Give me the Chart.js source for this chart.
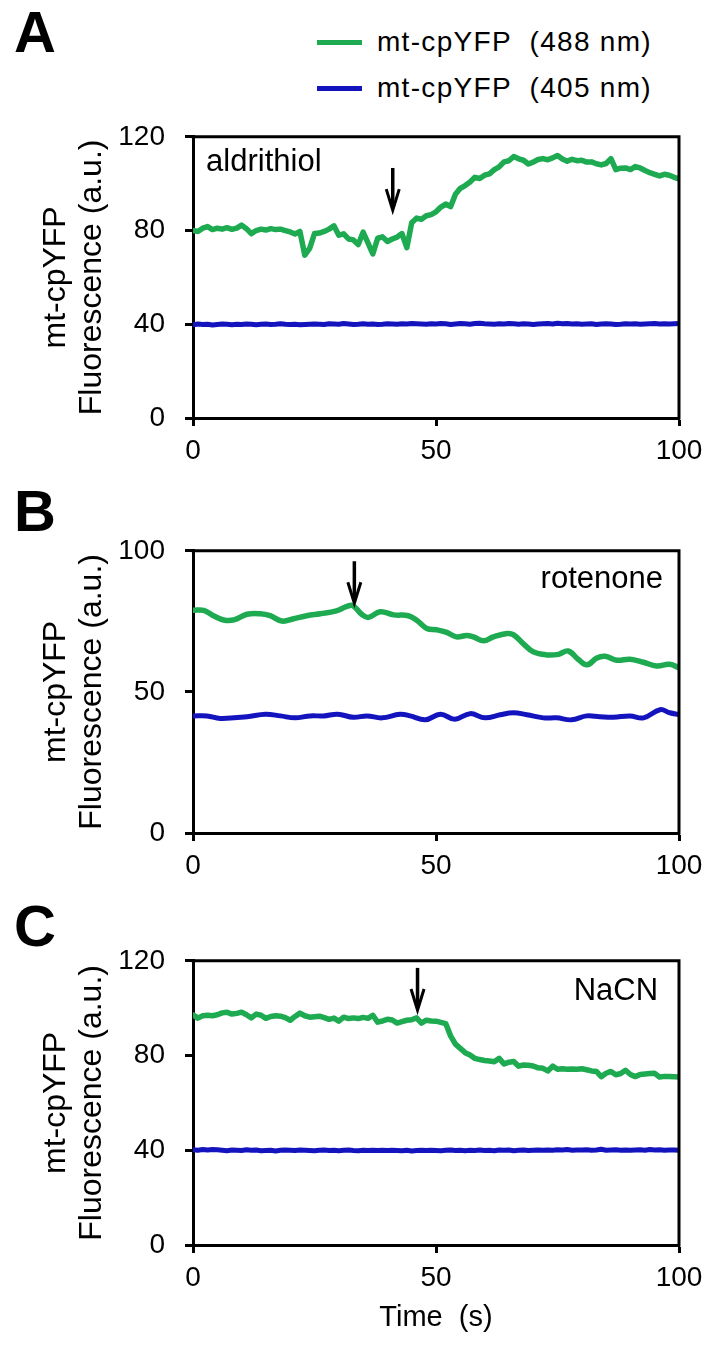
<!DOCTYPE html>
<html><head><meta charset="utf-8">
<script src="https://cdn.jsdelivr.net/npm/chart.js@4.4.0/dist/chart.umd.min.js"></script>
<style>
html,body{margin:0;padding:0;background:#fff;}
body{width:713px;height:1345px;overflow:hidden;position:relative;font-family:"Liberation Sans",Arial,sans-serif;color:#000;}
.cv{position:absolute;left:0;width:713px;}
.letter{position:absolute;left:14px;font-weight:bold;font-size:58px;line-height:1;}
.leg{position:absolute;left:317px;height:30px;display:flex;align-items:center;font-size:28px;letter-spacing:1.3px;white-space:pre;}
.sw{display:inline-block;width:45px;height:5px;margin-right:15px;}
</style></head>
<body>
<div class="letter" style="top:3px">A</div>
<div class="letter" style="top:482px">B</div>
<div class="letter" style="top:897px">C</div>
<div class="leg" style="top:27px"><span class="sw" style="background:#1DAA50"></span><span id="leg1"></span></div>
<div class="leg" style="top:73px"><span class="sw" style="background:#1414BE"></span><span id="leg2"></span></div>
<div class="cv" style="top:100px;height:380px"><canvas id="cA" width="713" height="380"></canvas></div>
<div class="cv" style="top:514px;height:381px"><canvas id="cB" width="713" height="381"></canvas></div>
<div class="cv" style="top:924px;height:411px"><canvas id="cC" width="713" height="411"></canvas></div>
<script>
// ---------- data ----------
const seriesNames = ['mt-cpYFP  (488 nm)', 'mt-cpYFP  (405 nm)'];
const yTitle = ['mt-cpYFP', 'Fluorescence (a.u.)'];
const xTitle = 'Time  (s)';
const xTicks = [0, 50, 100];
const yTicksA = [0, 40, 80, 120];
const yTicksB = [0, 50, 100];
const yTicksC = [0, 40, 80, 120];

// Panel A (aldrithiol), one sample per second
const greenA = [
 80, 79.6, 81, 81.7, 80.4, 81, 80.6, 81.2, 80.5, 81,
 82.3, 80.8, 78.7, 80, 80.6, 80.2, 80.8, 80.4, 80.6, 80,
 79.4, 78.5, 79.6, 69.5, 72.4, 78.7, 78.9, 79.6, 80.6, 82,
 78, 78.6, 76.4, 76, 74, 79.3, 74.7, 70, 76.7, 77.3,
 75.3, 76.4, 77.2, 78.7, 72.7, 83.3, 85.3, 84.8, 86.3, 86.8,
 88, 90, 91.3, 90.2, 95.5, 98, 99.2, 100.7, 102.7, 102.2,
 103.6, 104.2, 106, 107.2, 109.3, 109.8, 111.6, 110.6, 110, 108.4,
 109.2, 110.3, 110.7, 110.2, 111, 112, 110.5, 109.6, 110.4, 109.8,
 110, 109.2, 109.3, 108.5, 108, 108.6, 110.7, 106, 106.6, 106.7,
 106, 107.3, 106.7, 105.6, 104.7, 104, 103.3, 104, 103.6, 102.7,
 102];
const blueA = [
 39.8,40.1,39.9,40.0,39.7,39.9,40.1,40.0,39.8,40.0,
 39.9,40.1,40.0,39.8,40.0,40.1,39.9,40.0,40.2,40.0,
 39.9,40.0,39.8,39.9,40.0,40.1,40.0,39.9,40.2,40.1,
 40.0,40.3,40.1,39.9,40.0,40.2,40.0,40.1,39.9,40.0,
 40.2,40.1,40.0,40.2,40.1,40.3,40.2,40.1,40.0,40.2,
 40.1,40.3,40.2,39.9,40.1,40.3,40.2,40.0,40.3,40.4,
 40.2,40.1,40.0,40.2,40.1,40.3,40.2,40.0,40.2,40.1,
 39.9,40.1,40.2,40.3,40.1,40.4,40.2,40.3,40.1,40.2,
 40.0,40.1,40.2,39.9,40.1,40.2,40.1,39.9,40.0,40.2,
 40.1,40.2,40.0,40.1,40.2,40.3,40.1,40.2,40.1,40.2,
 40.3];

// Panel B (rotenone), smooth traces read at irregular times
const timeGreenB = [0,2.2,4.2,6.3,8.4,11.1,13.8,15.9,18.3,20.7,23.4,26.2,29.3,31.7,32.9,34.7,36.1,38.5,41.3,44.3,46.1,48.1,50.2,52.2,54.2,56.3,57.7,59.8,61.8,64.6,65.9,68,70,72.8,75.2,77.2,79.3,81.1,83.1,84.8,87.2,89.9,92.7,95.4,98.1,100];
const greenB = [78.9,78.9,77,75.5,75.5,77.5,77.7,77,75.1,75.9,77,77.7,78.6,80.3,80.6,77.5,76.4,78.4,77.3,77,75.3,72.5,72,71.1,69.5,70,69.5,68.1,69.5,70.7,70.3,67,64.2,63.1,63.3,64.5,61.5,59.6,62,62.6,61.2,61.6,60.5,59.2,59.8,58.5];
const timeBlueB = [0,2.9,5.6,11.1,14.9,18,21,24.1,26.9,29.8,33,35.8,38.9,42.6,44.7,47.8,50.9,53.9,57,60.1,63.2,65.9,68.7,72.1,74.8,77.9,81,83.7,86.5,89.9,92.7,96.1,98.1,100];
const blueB = [41.5,41.5,40.6,41.2,42.1,41.5,40.8,41.5,41.5,42.1,41,41.5,40.8,42.1,41.5,40.1,42.1,40.3,42.3,40.8,41.9,42.6,41.9,40.8,40.8,40.1,41.5,41.2,41,41.5,40.8,43.7,42.6,41.9];

// Panel C (NaCN), one sample per second
const greenC = [
 97.2, 95.8, 96.8, 97, 96.8, 97.2, 98, 98.3, 97.5, 97.8,
 98.3, 97.2, 95.9, 97.5, 97, 95.7, 96.5, 96.8, 96.6, 96,
 94.9, 96.5, 97.9, 96.8, 96.2, 96.4, 96.6, 96, 95.3, 95.8,
 94.5, 96.2, 95.6, 95.9, 95.6, 96.1, 95.7, 97, 94.1, 94.6,
 95.3, 95, 93.7, 94.3, 94.9, 95.1, 95.9, 93.7, 94.9, 94.6,
 94.5, 94, 93.5, 88.3, 84.8, 83, 81.2, 80.2, 78.8, 78.3,
 77.9, 77.7, 77.4, 78.8, 76.4, 77.2, 77.5, 75.5, 76, 75.9,
 75.6, 74.8, 74.6, 73.5, 75.5, 74.2, 74.4, 74.2, 74.3, 74.2,
 74.4, 74, 73.5, 73.3, 71.1, 72.5, 73.3, 71.9, 72.4, 73.8,
 72, 71.1, 72, 72.2, 72.4, 72.5, 70.9, 71.2, 71.1, 71,
 70.9];
const blueC = [
 40.2,40.0,40.3,40.1,40.3,40.2,40.0,39.8,40.1,40.0,
 39.9,40.2,40.0,40.1,39.8,39.9,40.0,39.7,40.0,40.1,
 40.0,39.9,40.1,40.0,39.9,39.8,40.0,40.1,39.9,40.0,
 39.8,40.0,40.1,39.9,39.8,40.0,39.9,40.0,39.9,40.0,
 39.9,40.0,39.9,39.8,40.0,39.7,39.9,40.0,39.9,40.0,
 39.9,39.8,40.0,40.1,39.9,40.0,39.8,40.0,39.9,40.1,
 39.9,40.0,39.8,40.1,40.0,40.1,39.8,40.0,40.1,39.9,
 40.0,40.1,40.0,40.1,40.0,40.2,40.1,40.3,40.0,40.1,
 40.1,40.2,40.0,40.1,40.4,40.0,40.1,40.2,40.0,40.1,
 40.0,40.1,40.2,40.0,40.3,40.1,40.2,40.0,40.1,40.1,
 40.0];

const GREEN = '#1DAA50', BLUE = '#1414BE';
const FAM = '"Liberation Sans", Arial, Helvetica, sans-serif';

document.getElementById('leg1').textContent = seriesNames[0];
document.getElementById('leg2').textContent = seriesNames[1];

const pts = (ts, vs) => vs.map((v, i) => ({x: ts[i], y: v}));
const idx = vs => vs.map((_, i) => i);

const framePlugin = {
  id: 'frameMarks',
  afterDatasetsDraw(chart, args, o) {
    const {ctx, chartArea: a, scales: {x, y}} = chart;
    ctx.save();
    ctx.strokeStyle = '#000'; ctx.lineWidth = 3; ctx.lineCap = 'square';
    ctx.beginPath(); ctx.moveTo(a.left, a.top); ctx.lineTo(a.right, a.top); ctx.lineTo(a.right, a.bottom); ctx.stroke();
    const ax = x.getPixelForValue(o.arrowT), y1 = y.getPixelForValue(o.arrowFrom), y2 = y.getPixelForValue(o.arrowTo);
    ctx.lineCap = 'butt'; ctx.lineWidth = 3.5;
    ctx.beginPath(); ctx.moveTo(ax, y1); ctx.lineTo(ax, y2 - 3); ctx.stroke();
    ctx.lineJoin = 'miter'; ctx.lineWidth = 3;
    ctx.beginPath(); ctx.moveTo(ax - 6.5, y2 - 21); ctx.lineTo(ax, y2); ctx.lineTo(ax + 6.5, y2 - 21); ctx.stroke();
    ctx.fillStyle = '#000'; ctx.font = '31px ' + FAM; ctx.textAlign = o.align; ctx.textBaseline = 'middle';
    ctx.fillText(o.text, x.getPixelForValue(o.textT), y.getPixelForValue(o.textY));
    ctx.restore();
  }
};

function makeChart(id, cfg) {
  const ds = [
    {label: seriesNames[0], data: cfg.green, borderColor: GREEN, borderWidth: 5.5, pointRadius: 0, tension: cfg.tension, borderJoinStyle: 'round', borderCapStyle: 'round'},
    {label: seriesNames[1], data: cfg.blue, borderColor: BLUE, borderWidth: 5, pointRadius: 0, tension: cfg.tension, borderJoinStyle: 'round', borderCapStyle: 'round'}
  ];
  return new Chart(document.getElementById(id), {
    type: 'line',
    data: {datasets: ds},
    plugins: [framePlugin],
    options: {
      responsive: false, animation: false, events: [],
      layout: {padding: {top: 18, right: 34, left: 0, bottom: 0}},
      plugins: {legend: {display: false}, tooltip: {enabled: false}, frameMarks: cfg.marks},
      scales: {
        x: {
          type: 'linear', min: 0, max: 100,
          afterBuildTicks: s => { s.ticks = xTicks.map(v => ({value: v})); },
          ticks: {color: '#000', font: {size: 28, family: FAM}, padding: 8, maxRotation: 0, autoSkip: false},
          grid: {drawOnChartArea: false, drawTicks: true, tickLength: 8, tickWidth: 3, tickColor: '#000'},
          border: {display: true, color: '#000', width: 3},
          title: cfg.xTitle ? {display: true, text: xTitle, color: '#000', font: {size: 29, family: FAM}, padding: {top: 0, bottom: 0}} : {display: false},
          afterFit: s => { s.height = cfg.xTitle ? 90 : 62; }
        },
        y: {
          min: 0, max: cfg.yMax,
          afterBuildTicks: s => { s.ticks = cfg.yTicks.map(v => ({value: v})); },
          ticks: {color: '#000', font: {size: 28, family: FAM}, padding: 20, autoSkip: false},
          grid: {drawOnChartArea: false, drawTicks: true, tickLength: 8, tickWidth: 3, tickColor: '#000'},
          border: {display: true, color: '#000', width: 3},
          title: {display: true, text: yTitle, color: '#000', font: {size: 32, family: FAM, lineHeight: 1.1}, padding: {top: 39, bottom: 0}},
          afterFit: s => { s.width = 193; }
        }
      }
    }
  });
}

makeChart('cA', {
  green: pts(idx(greenA), greenA), blue: pts(idx(blueA), blueA), tension: 0,
  yMax: 120, yTicks: yTicksA, xTitle: false,
  marks: {arrowT: 41.1, arrowFrom: 106.7, arrowTo: 88.7, text: 'aldrithiol', textT: 2.7, textY: 109.2, align: 'left'}
});
makeChart('cB', {
  green: pts(timeGreenB, greenB), blue: pts(timeBlueB, blueB), tension: 0.4,
  yMax: 100, yTicks: yTicksB, xTitle: false,
  marks: {arrowT: 33.2, arrowFrom: 96.3, arrowTo: 81.4, text: 'rotenone', textT: 96.7, textY: 89.7, align: 'right'}
});
makeChart('cC', {
  green: pts(idx(greenC), greenC), blue: pts(idx(blueC), blueC), tension: 0,
  yMax: 120, yTicks: yTicksC, xTitle: true,
  marks: {arrowT: 46.2, arrowFrom: 117, arrowTo: 99.2, text: 'NaCN', textT: 95.7, textY: 106.9, align: 'right'}
});
</script>
</body></html>
